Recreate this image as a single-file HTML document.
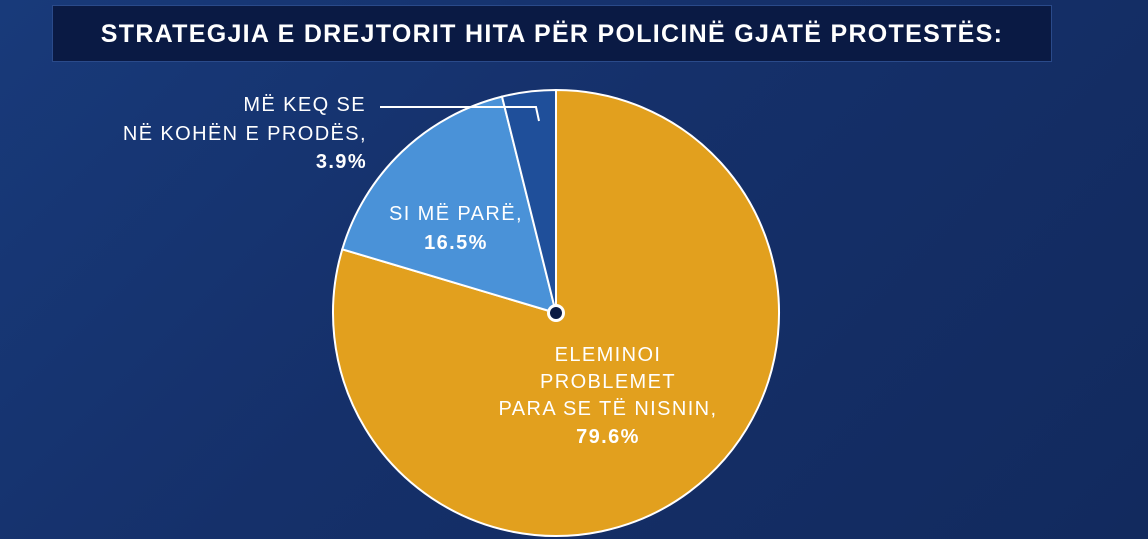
<!DOCTYPE html>
<html><head><meta charset="utf-8"><style>
html,body{margin:0;padding:0;}
body{width:1148px;height:539px;overflow:hidden;background:linear-gradient(135deg,#183a7a 0%,#15306a 45%,#122a5e 100%);font-family:"Liberation Sans",sans-serif;position:relative;}
.title{position:absolute;left:52px;top:5px;width:1000px;height:57px;background:#0a1a44;border:1px solid #2a4a8a;box-sizing:border-box;color:#fff;font-weight:bold;font-size:25px;text-align:center;line-height:57px;letter-spacing:1.3px;}
</style></head><body>
<div class="title">STRATEGJIA E DREJTORIT HITA PËR POLICINË GJATË PROTESTËS:</div>
<svg width="1148" height="539" style="position:absolute;left:0;top:0">
<path d="M556,313 L556,90 A223,223 0 1 1 342.3,249.3 Z" fill="#e2a01e" stroke="#fff" stroke-width="2"/>
<path d="M556,313 L342.3,249.3 A223,223 0 0 1 502,96.6 Z" fill="#4a92d8" stroke="#fff" stroke-width="2"/>
<path d="M556,313 L502,96.6 A223,223 0 0 1 556,90 Z" fill="#1f4f9a" stroke="#fff" stroke-width="2"/>
<circle cx="556" cy="313" r="9" fill="#fff"/><circle cx="556" cy="313" r="6" fill="#0a1a44"/>
<polyline points="380,107 536,107 539,121" fill="none" stroke="#fff" stroke-width="2"/>
<g fill="#fff" font-family="Liberation Sans, sans-serif" font-size="20" letter-spacing="1.4">
<text x="366" y="111" text-anchor="end">MË KEQ SE</text>
<text x="367" y="140" text-anchor="end">NË KOHËN E PRODËS,</text>
<text x="367" y="168" text-anchor="end" font-weight="bold">3.9%</text>
<text x="456" y="220" text-anchor="middle">SI MË PARË,</text>
<text x="456" y="249" text-anchor="middle" font-weight="bold">16.5%</text>
<text x="608" y="361" text-anchor="middle">ELEMINOI</text>
<text x="608" y="388" text-anchor="middle">PROBLEMET</text>
<text x="608" y="415" text-anchor="middle">PARA SE TË NISNIN,</text>
<text x="608" y="443" text-anchor="middle" font-weight="bold">79.6%</text>
</g>
</svg>
</body></html>
